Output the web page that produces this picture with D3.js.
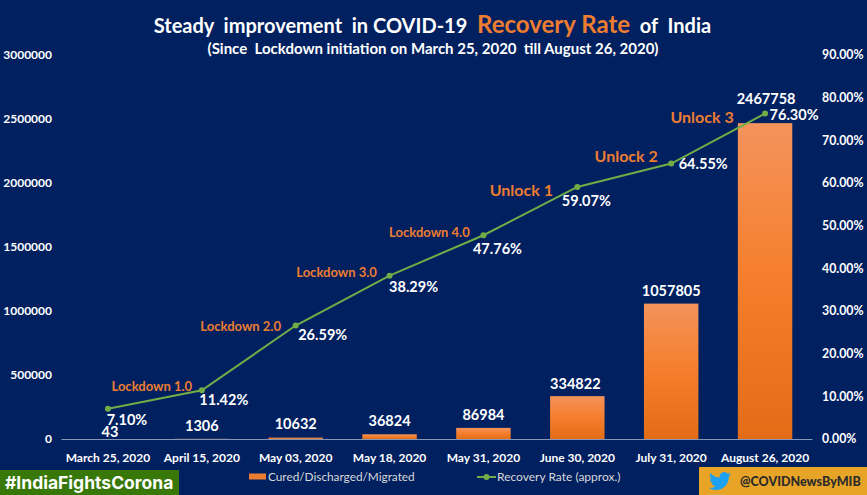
<!DOCTYPE html>
<html>
<head>
<meta charset="utf-8">
<script src="https://cdn.jsdelivr.net/npm/d3@7"></script>
<style>
  html, body { margin: 0; padding: 0; background: #002060; }
  svg { display: block; font-family: Lato, sans-serif; }
  text { white-space: pre; }
</style>
</head>
<body>
<svg width="867" height="495"></svg>
<script>
const dates = ['March 25, 2020', 'April 15, 2020', 'May 03, 2020', 'May 18, 2020', 'May 31, 2020', 'June 30, 2020', 'July 31, 2020', 'August 26, 2020'];
const cured = [43, 1306, 10632, 36824, 86984, 334822, 1057805, 2467758];
const recovery = [0.0710, 0.1142, 0.2659, 0.3829, 0.4776, 0.5907, 0.6455, 0.7630];
const phases = ['Lockdown 1.0', 'Lockdown 2.0', 'Lockdown 3.0', 'Lockdown 4.0', 'Unlock 1', 'Unlock 2', 'Unlock 3'];
const leftTicks = [0, 500000, 1000000, 1500000, 2000000, 2500000, 3000000];
const rightTicks = [0, 0.1, 0.2, 0.3, 0.4, 0.5, 0.6, 0.7, 0.8, 0.9];

// hand placed label offsets, relative to the mark they belong to
const curedOffset = [[2, -7], [0, -13], [0, -14], [0, -13], [0, -13], [-2, -12], [0, -13], [1, -24]];
const pctOffset = [[19, 11], [22, 10], [27, 9], [24, 11], [14, 14], [9, 14], [32, 0], [29, 1]];
const phaseOffset = [[-50, -4], [-55, 1], [-53, -3], [-54, -3], [-56, 3], [-45, -7], [-63, 4]];

const svg = d3.select('svg');
const orange = '#ED7D31';
const green = '#70AD47';

const x = d3.scaleBand().domain(dates).range([61, 812]).paddingInner(0.42).paddingOuter(0.21);
const yLeft = d3.scaleLinear().domain([0, 3000000]).range([439, 55]);
const yRight = d3.scaleLinear().domain([0, 0.9]).range([439, 55]);
const cx = d => x(d) + x.bandwidth() / 2;

const grad = svg.append('defs').append('linearGradient')
    .attr('id', 'barFill').attr('x1', 0).attr('y1', 0).attr('x2', 0).attr('y2', 1);
grad.append('stop').attr('offset', '0%').attr('stop-color', '#F3935C');
grad.append('stop').attr('offset', '45%').attr('stop-color', '#F6802F');
grad.append('stop').attr('offset', '100%').attr('stop-color', '#E36C17');

// title
const title = svg.append('text')
    .attr('x', 432.5).attr('y', 33)
    .attr('text-anchor', 'middle')
    .attr('font-weight', 700).attr('font-size', 20).attr('fill', '#fff');
title.append('tspan').text('Steady  improvement  in COVID-19  ');
title.append('tspan').attr('fill', orange).attr('font-size', 24).text('Recovery Rate');
title.append('tspan').text('  of  India');

svg.append('text')
    .attr('x', 433).attr('y', 54)
    .attr('text-anchor', 'middle')
    .attr('font-weight', 700).attr('font-size', 15).attr('fill', '#fff')
    .text('(Since  Lockdown initiation on March 25, 2020  till August 26, 2020)');

// bars
svg.append('g').selectAll('rect')
    .data(cured)
    .join('rect')
    .attr('x', (d, i) => x(dates[i]))
    .attr('y', d => yLeft(d))
    .attr('width', x.bandwidth())
    .attr('height', d => 439 - yLeft(d))
    .attr('fill', 'url(#barFill)');

// axes
const leftAxis = svg.append('g')
    .attr('transform', 'translate(52,0)')
    .call(d3.axisLeft(yLeft).tickValues(leftTicks).tickFormat(d3.format('d')).tickSize(0).tickPadding(0));
const rightAxis = svg.append('g')
    .attr('transform', 'translate(822,0)')
    .call(d3.axisRight(yRight).tickValues(rightTicks).tickFormat(d3.format('.2%')).tickSize(0).tickPadding(0));
const bottomAxis = svg.append('g')
    .attr('transform', 'translate(0,439)')
    .call(d3.axisBottom(x).tickSize(0).tickPadding(14));

[leftAxis, rightAxis, bottomAxis].forEach(a => {
  a.attr('font-family', null).attr('font-size', null);
  a.selectAll('text').attr('fill', '#fff').attr('font-weight', 700).attr('font-size', 12);
});
rightAxis.selectAll('text').attr('font-size', 12.3);
leftAxis.select('.domain').remove();
rightAxis.select('.domain').remove();
bottomAxis.select('.domain').attr('stroke', '#8497B8').attr('stroke-width', 1.2);

// recovery line
const line = d3.line().x((d, i) => cx(dates[i])).y(d => yRight(d));
svg.append('path')
    .datum(recovery)
    .attr('d', line)
    .attr('fill', 'none')
    .attr('stroke', green)
    .attr('stroke-width', 2);
svg.append('g').selectAll('circle')
    .data(recovery)
    .join('circle')
    .attr('cx', (d, i) => cx(dates[i]))
    .attr('cy', d => yRight(d))
    .attr('r', 3)
    .attr('fill', green);

// value labels
svg.append('g').selectAll('text')
    .data(cured)
    .join('text')
    .attr('x', (d, i) => cx(dates[i]) + curedOffset[i][0])
    .attr('y', (d, i) => yLeft(d) + curedOffset[i][1])
    .attr('dy', '0.35em')
    .attr('text-anchor', 'middle')
    .attr('font-weight', 700).attr('font-size', 14.5).attr('fill', '#fff')
    .text(d => d);

svg.append('g').selectAll('text')
    .data(recovery)
    .join('text')
    .attr('x', (d, i) => cx(dates[i]) + pctOffset[i][0])
    .attr('y', (d, i) => yRight(d) + pctOffset[i][1])
    .attr('dy', '0.35em')
    .attr('text-anchor', 'middle')
    .attr('font-weight', 700).attr('font-size', 14.5).attr('fill', '#fff')
    .text(d => d3.format('.2%')(d));

// lockdown / unlock phase labels, each sits by the point where that phase ends
svg.append('g').selectAll('text')
    .data(phases)
    .join('text')
    .attr('x', (d, i) => cx(dates[i + 1]) + phaseOffset[i][0])
    .attr('y', (d, i) => yRight(recovery[i + 1]) + phaseOffset[i][1])
    .attr('dy', '0.35em')
    .attr('text-anchor', 'middle')
    .attr('font-weight', 700)
    .attr('font-size', (d, i) => i < 4 ? 13 : 16)
    .attr('fill', orange)
    .text(d => d);

// legend
svg.append('rect').attr('x', 249).attr('y', 473.5).attr('width', 17).attr('height', 6).attr('fill', orange);
svg.append('text').attr('x', 268).attr('y', 481)
    .attr('font-size', 11.8).attr('fill', '#D9D9D9')
    .text('Cured/Discharged/Migrated');
svg.append('line').attr('x1', 477).attr('x2', 496).attr('y1', 477).attr('y2', 477)
    .attr('stroke', green).attr('stroke-width', 2);
svg.append('circle').attr('cx', 486.5).attr('cy', 477).attr('r', 3).attr('fill', green);
svg.append('text').attr('x', 497).attr('y', 481)
    .attr('font-size', 12).attr('fill', '#D9D9D9')
    .text('Recovery Rate (approx.)');

// footer badges
svg.append('rect').attr('x', 0).attr('y', 470).attr('width', 179).attr('height', 25).attr('fill', '#387808');
svg.append('text').attr('x', 5).attr('y', 488.5)
    .attr('font-family', 'Inter, sans-serif')
    .attr('font-weight', 700).attr('font-size', 17.5).attr('fill', '#fff')
    .text('#IndiaFightsCorona');

svg.append('rect').attr('x', 699).attr('y', 467).attr('width', 168).attr('height', 28).attr('fill', '#E8A426');
svg.append('path')
    .attr('transform', 'translate(709,470) scale(0.92)')
    .attr('d', 'M23.95 4.57a10 10 0 0 1-2.82.77 4.96 4.96 0 0 0 2.16-2.72c-.95.55-2 .95-3.12 1.18a4.92 4.92 0 0 0-8.38 4.48C7.69 8.1 4.07 6.13 1.64 3.16a4.82 4.82 0 0 0-.66 2.47c0 1.71.87 3.21 2.19 4.1a4.9 4.9 0 0 1-2.23-.62v.06a4.92 4.92 0 0 0 3.95 4.83 5 5 0 0 1-2.21.08 4.94 4.94 0 0 0 4.6 3.42A9.87 9.87 0 0 1 0 19.54a13.94 13.94 0 0 0 7.55 2.21c9.05 0 14-7.5 14-13.98 0-.21 0-.42-.02-.63a9.94 9.94 0 0 0 2.46-2.55z')
    .attr('fill', '#1DA1F2');
svg.append('text').attr('x', 740).attr('y', 486)
    .attr('font-weight', 900).attr('font-size', 12.5).attr('fill', '#2B2B2B')
    .text('@COVIDNewsByMIB');
</script>
</body>
</html>
